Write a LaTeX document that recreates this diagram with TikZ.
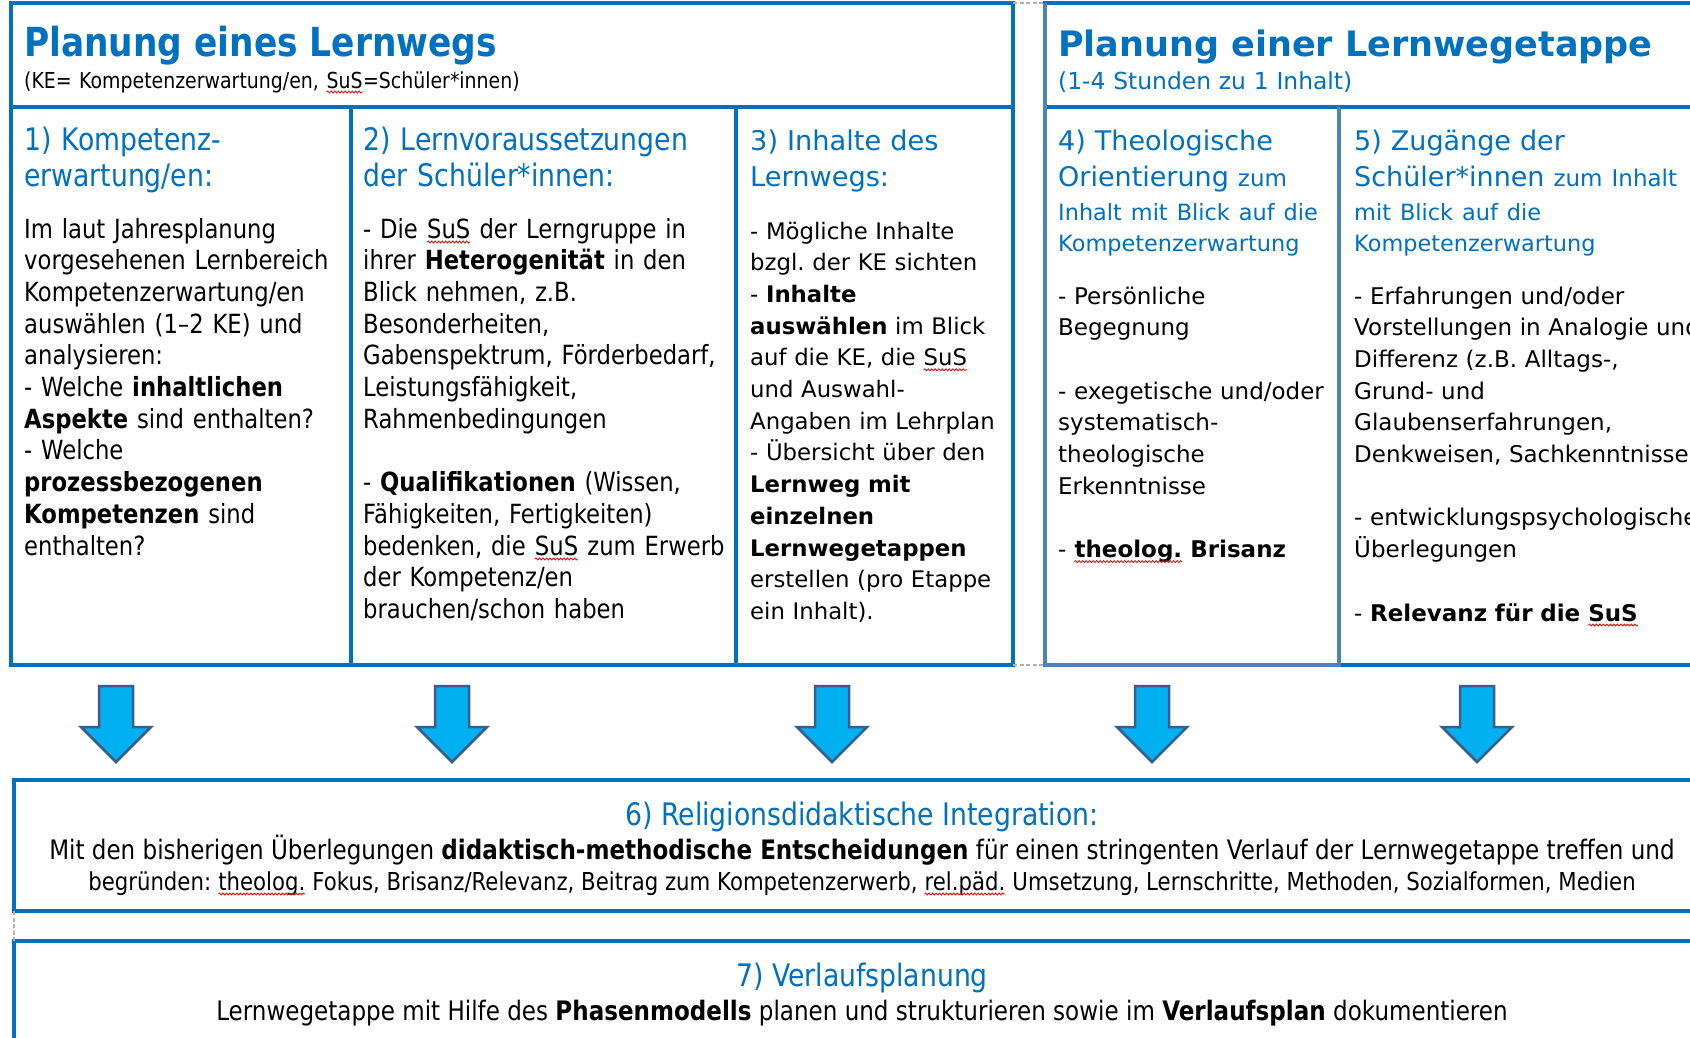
\documentclass[tikz,border=0pt]{standalone}
\usepackage{fontspec}
\setmainfont{DejaVu Sans}[FakeStretch=0.86]
\newfontfamily\verd{DejaVu Sans}
\usetikzlibrary{calc,decorations.pathmorphing}
\frenchspacing

\definecolor{kblue}{HTML}{0070C0}
\definecolor{kpale}{HTML}{4F81BD}
\definecolor{afill}{HTML}{00B0F0}
\definecolor{aline}{HTML}{3A5E8C}

\newcommand\fsz[2]{\fontsize{#1}{#2}\selectfont}
\newcommand\wavy[1]{\tikz[baseline=(w.base)]{\node[inner sep=0pt,outer sep=0pt] (w) {#1};
  \draw[red, line width=0.8pt, decorate, decoration={snake,amplitude=1pt,segment length=3.5pt}]
    ([yshift=-4pt]w.base west) -- ([yshift=-4pt]w.base east);}}

\begin{document}
\begin{tikzpicture}[x=1pt, y=-1pt,
        frame/.style={draw=kblue, line width=4pt, inner sep=0pt, outer sep=0pt, anchor=north west},
        light/.style={draw=kpale, line width=4pt},
        gap/.style={draw=gray!60, line width=1.2pt, dash pattern=on 4pt off 2.5pt},
        blockarrow/.style={fill=afill, draw=aline, line width=2.5pt, line join=miter},
        title/.style={inner sep=0pt, anchor=base west, text=kblue, font=\bfseries\fsz{40}{40}},
        head/.style={inner sep=0pt, anchor=base west, align=left, text=kblue, text width=#1},
        head/.default=330,
        body/.style={inner sep=0pt, anchor=base west, align=left, text width=#1},
        body/.default=330,
        line/.style={inner sep=0pt, anchor=base}
    ]
        \fill[white] (0,0) rectangle (1690,1037);
        \useasboundingbox (0,0) rectangle (1690,1037);
        \clip (0,0) rectangle (1690,1037);

        \node[frame, minimum width=1002, minimum height=104] (planweg) at (11,3) {};
        \node[frame, minimum width=340, minimum height=558] (kompetenz) at (11,107) {};
        \node[frame, minimum width=385, minimum height=558] (lernvor) at (kompetenz.north east) {};
        \node[frame, minimum width=277, minimum height=558] (inhalte) at (lernvor.north east) {};

        \node[frame, minimum width=665, minimum height=104] (planetappe) at (1045,3) {};
        \node[frame, minimum width=294, minimum height=558] (theologie) at (1045,107) {};
        \node[frame, minimum width=371, minimum height=558] (zugaenge) at (theologie.north east) {};
        \draw[light] (planetappe.north west) -- (theologie.south west) -- (theologie.south east) -- (theologie.north east);

        \draw[gap] (planweg.north east) -- (planetappe.north west);
        \draw[gap] (inhalte.south east) -- (theologie.south west);

        \node[frame, minimum width=1696, minimum height=131] (integration) at (14,780) {};
        \node[frame, minimum width=1696, minimum height=160] (verlauf) at (14,941) {};
        \draw[gap] (integration.south west) -- (verlauf.north west);

        \foreach \ax in {116,452,832,1152,1477}
            \draw[blockarrow] (\ax-17,686) -- (\ax+17,686) -- (\ax+17,727) -- (\ax+35,727)
                -- (\ax,762) -- (\ax-35,727) -- (\ax-17,727) -- cycle;

        % Kopfzeilen
        \node[title] (tweg) at (24,56) {Planung eines Lernwegs};
        \node[body=900, font=\fsz{22}{22}] (sweg) at (24,88) {(KE= Kompetenzerwartung/en, \wavy{SuS}=Schüler*innen)};
        \node[title, font=\verd\bfseries\fsz{35}{35}] (tetappe) at (1058,56) {Planung einer Lernwegetappe};
        \node[body=600, text=kblue, font=\verd\fsz{23.4}{23.4}] (setappe) at (1058,89) {(1-4 Stunden zu 1 Inhalt)};

        % Spalten 1-5
        \node[head, font=\fsz{31}{36}] (hkomp) at (24,150) {1) Kompetenz-\\erwartung/en:};
        \node[body, font=\fsz{26.4}{31.7}] (bkomp) at (24,238) {Im laut Jahresplanung\\vorgesehenen Lernbereich\\Kompetenzerwartung/en\\auswählen (1–2 KE) und\\analysieren:\\- Welche \textbf{inhaltlichen}\\\textbf{Aspekte} sind enthalten?\\- Welche\\\textbf{prozessbezogenen}\\\textbf{Kompetenzen} sind\\enthalten?};

        \node[head=380, font=\fsz{31}{36}] (hvor) at (363,150) {2) Lernvoraussetzungen\\der Schüler*innen:};
        \node[body=380, font=\fsz{26.4}{31.7}] (bvor) at (363,238) {- Die \wavy{SuS} der Lerngruppe in\\ihrer \textbf{Heterogenität} in den\\Blick nehmen, z.B.\\Besonderheiten,\\Gabenspektrum, Förderbedarf,\\Leistungsfähigkeit,\\Rahmenbedingungen\\[31.7pt]- \textbf{Qualifikationen} (Wissen,\\Fähigkeiten, Fertigkeiten)\\bedenken, die \wavy{SuS} zum Erwerb\\der Kompetenz/en\\brauchen/schon haben};

        \node[head=270, font=\verd\fsz{27.2}{36}] (hinh) at (750,150) {3) Inhalte des\\Lernwegs:};
        \node[body=270, font=\verd\fsz{22.8}{31.7}] (binh) at (750,239) {- Mögliche Inhalte\\bzgl. der KE sichten\\- \textbf{Inhalte}\\\textbf{auswählen} im Blick\\auf die KE, die \wavy{SuS}\\und Auswahl-\\Angaben im Lehrplan\\- Übersicht über den\\\textbf{Lernweg mit}\\\textbf{einzelnen}\\\textbf{Lernwegetappen}\\erstellen (pro Etappe\\ein Inhalt).};

        \node[head=290, font=\verd\fsz{27}{36}] (htheo) at (1058,150) {4) Theologische\\Orientierung {\fsz{23}{36}zum}\\[-2pt]{\fsz{22.4}{36}Inhalt mit Blick auf die}\\[-5pt]{\fsz{22.4}{36}Kompetenzerwartung}};
        \node[body=290, font=\verd\fsz{23}{31.7}] (btheo) at (1058,304) {- Persönliche\\Begegnung\\[31.7pt]- exegetische und/oder\\systematisch-\\theologische\\Erkenntnisse\\[31.7pt]- \textbf{\wavy{theolog.} Brisanz}};

        \node[head=360, font=\verd\fsz{27}{36}] (hzug) at (1354,150) {5) Zugänge der\\Schüler*innen {\fsz{23}{36}zum Inhalt}\\[-2pt]{\fsz{22.4}{36}mit Blick auf die}\\[-5pt]{\fsz{22.4}{36}Kompetenzerwartung}};
        \node[body=400, font=\verd\fsz{23}{31.7}] (bzug) at (1354,304) {- Erfahrungen und/oder\\Vorstellungen in Analogie und\\Differenz (z.B. Alltags-,\\Grund- und\\Glaubenserfahrungen,\\Denkweisen, Sachkenntnisse)\\[31.7pt]- entwicklungspsychologische\\Überlegungen\\[31.7pt]- \textbf{Relevanz für die \wavy{SuS}}};

        % Integration und Verlauf
        \node[line, text=kblue, font=\fsz{31}{31}] (tint) at (862,825) {6) Religionsdidaktische Integration:};
        \node[line, font=\fsz{26.8}{26.8}] (lint1) at (862,859) {Mit den bisherigen Überlegungen \textbf{didaktisch-methodische Entscheidungen} für einen stringenten Verlauf der Lernwegetappe treffen und};
        \node[line, font=\fsz{24.7}{24.7}] (lint2) at (862,890) {begründen: \wavy{theolog.} Fokus, Brisanz/Relevanz, Beitrag zum Kompetenzerwerb, \wavy{rel.päd.} Umsetzung, Lernschritte, Methoden, Sozialformen, Medien};

        \node[line, text=kblue, font=\fsz{31}{31}] (tver) at (862,986) {7) Verlaufsplanung};
        \node[line, font=\fsz{26.8}{26.8}] (lver) at (862,1020) {Lernwegetappe mit Hilfe des \textbf{Phasenmodells} planen und strukturieren sowie im \textbf{Verlaufsplan} dokumentieren};
    \end{tikzpicture}
\end{document}
